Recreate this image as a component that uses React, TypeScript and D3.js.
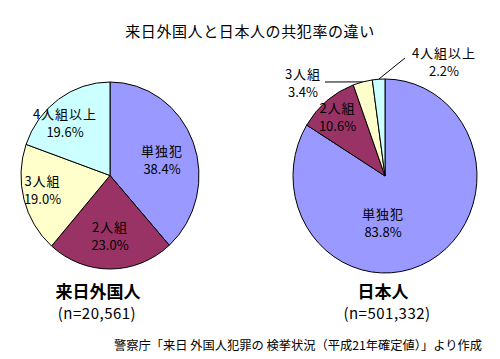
import React from "react";
import * as d3 from "d3";

const categories = ["単独犯", "2人組", "3人組", "4人組以上"];
const foreignValues = [38.4, 23.0, 19.0, 19.6];
const japaneseValues = [83.8, 10.6, 3.4, 2.2];
const colors = ["#9999FF", "#993366", "#FFFFCC", "#CCFFFF"];
const title = "来日外国人と日本人の共犯率の違い";
const groupNames = ["来日外国人", "日本人"];
const groupCounts = ["(n=20,561)", "(n=501,332)"];
const source = "警察庁「来日 外国人犯罪の 検挙状況（平成21年確定値）」より作成";

const FONT = "'Noto Sans CJK JP', 'Noto Sans', sans-serif";

type PieCfg = {
  values: number[];
  cx: number;
  cy: number;
  rx: number;
  ry: number;
  labels: { dx: number; dy: number }[];
  leaders: ({ x: number; y: number } | null)[];
};

function ellipsePt(cx: number, cy: number, rx: number, ry: number, a: number) {
  return [cx + rx * Math.sin(a), cy - ry * Math.cos(a)];
}

function Pie({ cfg }: { cfg: PieCfg }) {
  const pie = d3.pie<number>().sort(null).value((d) => d);
  const arcs = pie(cfg.values);
  const { cx, cy, rx, ry } = cfg;
  return (
    <g>
      {arcs.map((a, i) => {
        const [x0, y0] = ellipsePt(cx, cy, rx, ry, a.startAngle);
        const [x1, y1] = ellipsePt(cx, cy, rx, ry, a.endAngle);
        const large = a.endAngle - a.startAngle > Math.PI ? 1 : 0;
        const p = d3.path();
        p.moveTo(cx, cy);
        p.lineTo(x0, y0);
        const d = `${p.toString()}A${rx},${ry} 0 ${large} 1 ${x1},${y1}Z`;
        return (
          <path key={i} d={d} fill={colors[i]} stroke="#000" strokeWidth={1} strokeLinejoin="round" />
        );
      })}
      {arcs.map((a, i) => {
        const lead = cfg.leaders[i];
        if (!lead) return null;
        const mid = (a.startAngle + a.endAngle) / 2;
        const [px, py] = ellipsePt(cx, cy, rx, ry, mid);
        return <line key={"l" + i} x1={px} y1={py} x2={lead.x} y2={lead.y} stroke="#000" strokeWidth={1} />;
      })}
      {arcs.map((a, i) => {
        const lb = cfg.labels[i];
        const x = cx + lb.dx;
        const y = cy + lb.dy;
        return (
          <g key={"t" + i} fontFamily={FONT} fontSize={13} fill="#000" textAnchor="middle">
            <text x={x} y={y - 9} dominantBaseline="central" letterSpacing={1}>
              {categories[i]}
            </text>
            <text x={x} y={y + 9} dominantBaseline="central">
              {`${cfg.values[i].toFixed(1)}%`}
            </text>
          </g>
        );
      })}
    </g>
  );
}

export default function App() {
  const left: PieCfg = {
    values: foreignValues,
    cx: 110,
    cy: 175.5,
    rx: 89,
    ry: 93.5,
    labels: [
      { dx: 52, dy: -16 },
      { dx: 0, dy: 59.5 },
      { dx: -67.5, dy: 13.5 },
      { dx: -45, dy: -53 },
    ],
    leaders: [null, null, null, null],
  };
  const right: PieCfg = {
    values: japaneseValues,
    cx: 385,
    cy: 176,
    rx: 92,
    ry: 97,
    labels: [
      { dx: -2, dy: 46.5 },
      { dx: -47.5, dy: -60 },
      { dx: -82, dy: -93.5 },
      { dx: 59, dy: -115 },
    ],
    leaders: [null, null, { x: 325, y: 82 }, { x: 405, y: 58 }],
  };
  return (
    <svg
      width={500}
      height={359}
      style={{ position: "absolute", left: 0, top: 0, background: "#fff" }}
    >
      <rect width={500} height={359} fill="#fff" />
      <text x={250} y={30} textAnchor="middle" dominantBaseline="central" fontFamily={FONT} fontSize={15} letterSpacing={0.6}>
        {title}
      </text>
      <Pie cfg={left} />
      <Pie cfg={right} />
      {[98, 383].map((x, i) => (
        <g key={i} fontFamily={FONT} textAnchor="middle">
          <text x={x} y={290} dominantBaseline="central" fontSize={17} fontWeight="bold">
            {groupNames[i]}
          </text>
          <text x={x + (i === 0 ? -1 : 4)} y={312} dominantBaseline="central" fontSize={15} letterSpacing={0.5}>
            {groupCounts[i]}
          </text>
        </g>
      ))}
      <text x={482} y={345} textAnchor="end" dominantBaseline="central" fontFamily={FONT} fontSize={12.25}>
        {source}
      </text>
    </svg>
  );
}
